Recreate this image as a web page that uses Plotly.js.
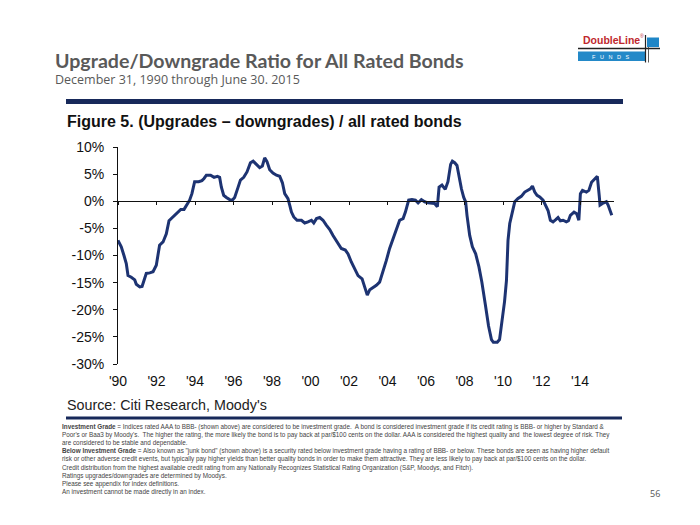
<!DOCTYPE html>
<html>
<head>
<meta charset="utf-8">
<script src="https://cdn.plot.ly/plotly-3.0.1.min.js"></script>
<style>html,body{margin:0;padding:0;background:#fff;}#chart{width:700px;height:525px;}</style>
</head>
<body>
<div id="chart"></div>
<script>
// ---- Data ----
const years = [1990.00,1990.17,1990.31,1990.43,1990.52,1990.69,1990.87,1990.95,1991.13,1991.25,1991.35,1991.47,1991.65,1991.82,1991.99,1992.08,1992.16,1992.34,1992.51,1992.65,1992.86,1993.03,1993.26,1993.43,1993.55,1993.72,1993.84,1993.98,1994.19,1994.36,1994.47,1994.59,1994.81,1994.99,1995.16,1995.28,1995.37,1995.49,1995.63,1995.80,1995.94,1996.06,1996.24,1996.36,1996.53,1996.70,1996.88,1997.02,1997.19,1997.36,1997.50,1997.62,1997.74,1997.88,1998.05,1998.23,1998.40,1998.54,1998.66,1998.83,1998.92,1999.01,1999.13,1999.30,1999.53,1999.70,1999.87,2000.05,2000.17,2000.31,2000.48,2000.65,2000.82,2001.00,2001.17,2001.34,2001.48,2001.60,2001.81,2001.95,2002.12,2002.30,2002.47,2002.68,2002.82,2002.95,2003.08,2003.25,2003.42,2003.59,2003.77,2003.94,2004.11,2004.29,2004.46,2004.63,2004.81,2004.93,2005.10,2005.27,2005.45,2005.59,2005.76,2005.93,2006.10,2006.28,2006.45,2006.59,2006.68,2006.83,2007.00,2007.14,2007.28,2007.37,2007.49,2007.61,2007.72,2007.84,2007.96,2008.06,2008.13,2008.18,2008.27,2008.41,2008.58,2008.75,2008.90,2009.08,2009.25,2009.40,2009.50,2009.70,2009.82,2009.95,2010.08,2010.18,2010.26,2010.35,2010.49,2010.61,2010.78,2010.95,2011.13,2011.30,2011.42,2011.53,2011.65,2011.77,2011.91,2012.08,2012.22,2012.34,2012.46,2012.60,2012.74,2012.86,2012.98,2013.12,2013.29,2013.40,2013.50,2013.69,2013.83,2013.94,2014.02,2014.13,2014.33,2014.46,2014.60,2014.75,2014.90,2015.00,2015.04,2015.17,2015.37,2015.46,2015.65];
const ratio = [-7.2,-8.4,-10.0,-11.5,-13.7,-14.0,-14.5,-15.3,-15.8,-15.7,-14.6,-13.3,-13.2,-13.0,-11.8,-10.0,-8.1,-7.5,-6.0,-3.6,-2.9,-2.4,-1.5,-1.5,-0.7,0.2,1.4,3.6,3.6,3.8,4.2,4.8,4.8,4.4,4.6,4.4,2.6,1.1,0.7,0.3,0.2,0.7,2.6,3.9,4.4,5.4,7.1,7.4,6.8,6.2,6.5,8.0,7.3,5.8,5.2,4.8,4.6,3.4,1.4,0.5,-0.7,-2.0,-2.9,-3.5,-3.5,-4.0,-3.8,-3.5,-4.0,-3.2,-3.0,-3.5,-4.4,-5.2,-6.3,-7.2,-8.1,-8.7,-9.0,-9.7,-11.2,-12.4,-13.7,-14.3,-15.8,-17.3,-16.3,-15.9,-15.5,-14.9,-13.0,-10.9,-8.7,-6.9,-5.2,-3.5,-3.2,-2.0,0.2,0.3,0.2,-0.3,0.3,-0.1,-0.3,-0.4,-0.4,-1.0,2.6,3.0,2.2,3.6,6.8,7.4,7.1,6.6,4.5,2.3,0.7,-0.1,-2.6,-4.4,-6.3,-8.4,-9.7,-12.1,-14.9,-19.0,-23.0,-25.5,-26.0,-26.0,-25.5,-22.0,-18.5,-14.6,-7.2,-4.1,-1.7,-0.1,0.5,0.9,1.7,2.0,2.3,2.8,1.7,1.1,0.8,0.2,-0.7,-1.7,-3.5,-3.8,-3.4,-3.0,-3.6,-3.5,-3.8,-3.6,-2.6,-2.0,-2.3,-3.5,1.4,2.0,1.7,2.0,3.5,4.0,4.6,1.0,-0.7,-0.4,-0.1,-0.7,-2.6];
const xTickVals = [1990,1992,1994,1996,1998,2000,2002,2004,2006,2008,2010,2012,2014];
const xTickText = ["'90","'92","'94","'96","'98","'00","'02","'04","'06","'08","'10","'12","'14"];
const yTickVals = [10,5,0,-5,-10,-15,-20,-25,-30];
const yTickText = ["10%","5%","0%","-5%","-10%","-15%","-20%","-25%","-30%"];

const titleText = "Upgrade/Downgrade Ratio for All Rated Bonds";
const subtitleText = "December 31, 1990 through June 30. 2015";
const figureText = "Figure 5. (Upgrades \u2013 downgrades) / all rated bonds";
const sourceText = "Source: Citi Research, Moody's";
const footLines = [
  "<b>Investment Grade</b> = Indices rated AAA to BBB- (shown above) are considered to be investment grade.  A bond is considered investment grade if its credit rating is BBB- or higher by Standard &amp;",
  "Poor's or Baa3 by Moody's.  The higher the rating, the more likely the bond is to pay back at par/$100 cents on the dollar. AAA is considered the highest quality and  the lowest degree of risk. They",
  "are considered to be stable and dependable.",
  "<b>Below Investment Grade</b> = Also known as \"junk bond\" (shown above) is a security rated below investment grade having a rating of BBB- or below. These bonds are seen as having higher default",
  "risk or other adverse credit events, but typically pay higher yields than better quality bonds in order to make them attractive. They are less likely to pay back at par/$100 cents on the dollar.",
  "Credit distribution from the highest available credit rating from any Nationally Recognizes Statistical Rating Organization (S&amp;P, Moodys, and Fitch).",
  "Ratings upgrades/downgrades are determined by Moodys.",
  "Please see appendix for index definitions.",
  "An investment cannot be made directly in an index."
];

// ---- Layout geometry (pixels) ----
const W = 700, H = 525;
const L = 118, R = 86, T = 147, B = 161;
const PW = W - L - R, PH = H - T - B;
const px = v => (v - L) / PW;
const py = v => (H - B - v) / PH;

const navy = '#17295a';
const lineColor = '#1d3372';

function note(text, xPix, yPix, anchor, font) {
  return {text: text, xref:'paper', yref:'paper', x: px(xPix), y: py(yPix),
          xanchor: anchor, yanchor:'middle', showarrow:false, font: font};
}

const annotations = [
  note(titleText, 53, 60, 'left', {family:'Lato, Open Sans, sans-serif', size:19.6, color:'#595959', weight:700}),
  note(subtitleText, 53, 79, 'left', {family:'Open Sans, Liberation Sans, sans-serif', size:12.5, color:'#595959'}),
  note('<b>' + figureText + '</b>', 65, 121, 'left', {family:'Liberation Sans, Arial, sans-serif', size:16, color:'#111'}),
  note(sourceText, 65, 405, 'left', {family:'Liberation Sans, Arial, sans-serif', size:14.3, color:'#222'}),
  note('56', 655, 493, 'center', {family:'Open Sans, Liberation Sans, sans-serif', size:9, color:'#555'}),
  // logo texts
  note('<b>DoubleLine</b>', 611, 40.5, 'center', {family:'Liberation Sans, Arial, sans-serif', size:10.5, color:'#c0282d'}),
  note('\u00ae', 642, 36, 'center', {family:'Liberation Sans, Arial, sans-serif', size:5, color:'#c0282d'}),
  note('F   U   N   D   S', 611, 56.5, 'center', {family:'Liberation Sans, Arial, sans-serif', size:5.5, color:'#ffffff'})
];
footLines.forEach((t, i) => {
  annotations.push(note(t, 60, 427 + i * 8.1, 'left',
    {family:'Liberation Sans Narrow, Arial Narrow, Liberation Sans, sans-serif', size:6.35, color:'#444'}));
});

const shapes = [
  {type:'rect', xref:'paper', yref:'paper', x0:px(66), x1:px(623), y0:py(99), y1:py(104), fillcolor:navy, line:{width:0}},
  {type:'rect', xref:'paper', yref:'paper', x0:px(66), x1:px(622), y0:py(416.5), y1:py(419.5), fillcolor:navy, line:{width:0}},
  // logo shapes
  {type:'rect', xref:'paper', yref:'paper', x0:px(578), x1:px(645), y0:py(51.5), y1:py(61), fillcolor:'#2389c8', line:{width:0}},
  {type:'rect', xref:'paper', yref:'paper', x0:px(647), x1:px(659), y0:py(37.5), y1:py(47), fillcolor:'#1f86c7', line:{width:0}},
  {type:'line', xref:'paper', yref:'paper', x0:px(578), x1:px(660), y0:py(48.5), y1:py(48.5), line:{color:'#222', width:1.3}},
  {type:'line', xref:'paper', yref:'paper', x0:px(645.5), x1:px(645.5), y0:py(35), y1:py(62.5), line:{color:'#222', width:1.2}},
  {type:'line', xref:'paper', yref:'paper', x0:px(648.5), x1:px(648.5), y0:py(47), y1:py(62.5), line:{color:'#333', width:0.8}}
];

const trace = {
  x: years, y: ratio, type:'scatter', mode:'lines',
  line:{color: lineColor, width: 3},
  hoverinfo:'skip', showlegend:false
};
const xRange = [1990, 1990 + PW / 19.25];
// invisible trace tied to the zero-line axis so that its ticks draw
const zeroAxisTrace = {x: xRange, y:[0, 0], xaxis:'x2', yaxis:'y', type:'scatter', mode:'lines',
  line:{width:0, color:'rgba(0,0,0,0)'}, hoverinfo:'skip', showlegend:false};

const layout = {
  width: W, height: H,
  margin: {l: L, r: R, t: T, b: B, pad: 0},
  paper_bgcolor:'#ffffff', plot_bgcolor:'#ffffff',
  showlegend:false,
  xaxis: {
    range: xRange, showgrid:false, zeroline:false, showline:false,
    tickmode:'array', tickvals: xTickVals, ticktext: xTickText, ticks:'',
    ticklabelstandoff: 7,
    tickfont:{family:'Liberation Sans, Arial, sans-serif', size:14, color:'#111'},
    fixedrange:true
  },
  xaxis2: {
    range: xRange, overlaying:'x', anchor:'free', position: 0.75, side:'bottom',
    showgrid:false, zeroline:false, showline:true, linecolor:'#111', linewidth:1,
    tickmode:'array', tickvals: xTickVals, ticks:'outside', ticklen:3, tickcolor:'#111', tickwidth:1,
    showticklabels:false, fixedrange:true
  },
  yaxis: {
    range: [-30, 10], tickmode:'array', tickvals: yTickVals, ticktext: yTickText,
    showgrid:false, zeroline:false, showline:true, linecolor:'#111', linewidth:1,
    ticks:'outside', ticklen:4, tickcolor:'#111',
    ticklabelstandoff: 6,
    tickfont:{family:'Liberation Sans, Arial, sans-serif', size:14, color:'#111'},
    fixedrange:true
  },
  annotations: annotations,
  shapes: shapes
};

Plotly.newPlot('chart', [trace, zeroAxisTrace], layout, {staticPlot:true, displayModeBar:false});
</script>
</body>
</html>
